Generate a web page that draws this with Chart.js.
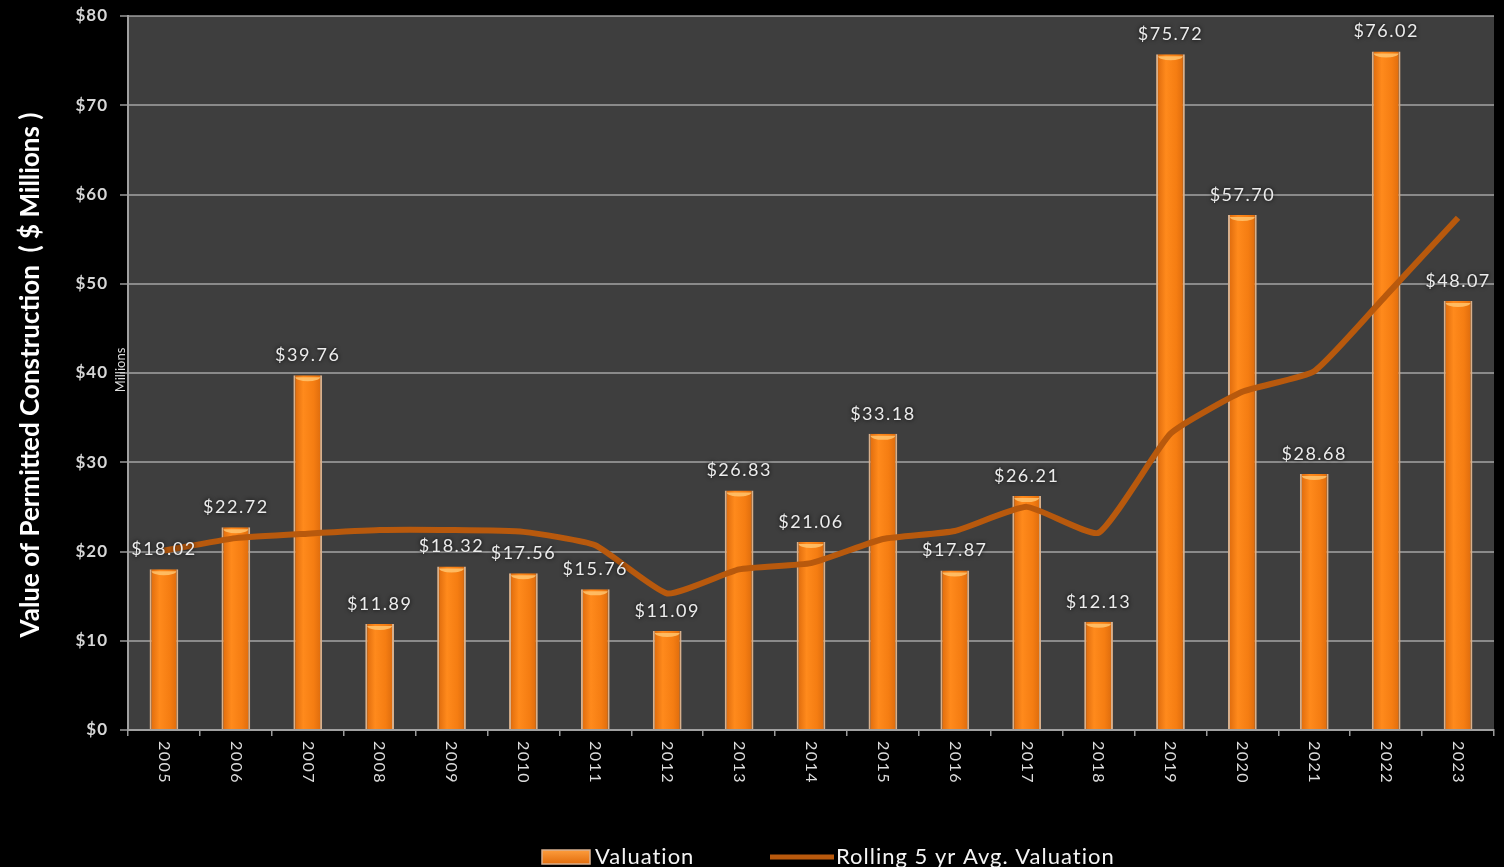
<!DOCTYPE html>
<html>
<head>
<style>
  html, body { margin: 0; padding: 0; background: #000; }
  #wrap { width: 1504px; height: 867px; }
</style>
</head>
<body>
<div id="wrap"><canvas id="myChart" width="1504" height="867"></canvas></div>

<script src="https://cdn.jsdelivr.net/npm/chart.js"></script>
<script>
// data
const years = ['2005', '2006', '2007', '2008', '2009', '2010', '2011', '2012', '2013', '2014',
               '2015', '2016', '2017', '2018', '2019', '2020', '2021', '2022', '2023'];
const valuation = [18.02, 22.72, 39.76, 11.89, 18.32, 17.56, 15.76, 11.09, 26.83, 21.06,
                   33.18, 17.87, 26.21, 12.13, 75.72, 57.70, 28.68, 76.02, 48.07];
const rolling5yr = [20.1, 21.5, 22.0, 22.4, 22.4, 22.2, 20.7, 15.3, 18.0, 18.7,
                    21.4, 22.3, 25.0, 22.1, 33.2, 37.9, 40.2, 48.7, 57.4];
const yMin = 0, yMax = 80, yStep = 10;
const yTitle = 'Value of Permitted Construction  ( $ Millions )';
const unitLabel = 'Millions';

const FONT = 'Lato, "Open Sans", sans-serif';
const LINE_COLOR = '#b8590d';

function barGradient(c) {
  let chart = c.chart;
  let xs = chart.scales.x;
  if (!xs || c.dataIndex === undefined) return '#f07810';
  let cx = xs.getPixelForValue(c.dataIndex);
  if (!isFinite(cx)) return '#f07810';
  let half = 15;
  let g = chart.ctx.createLinearGradient(cx - half, 0, cx + half, 0);
  g.addColorStop(0, '#d8650a');
  g.addColorStop(0.35, '#ff8a1c');
  g.addColorStop(0.7, '#f57d12');
  g.addColorStop(1, '#d8680c');
  return g;
}

const decor = {
  id: 'decor',
  beforeDraw(chart) {
    let ctx = chart.ctx, a = chart.chartArea;
    ctx.save();
    ctx.fillStyle = '#000';
    ctx.fillRect(0, 0, chart.width, chart.height);
    ctx.fillStyle = '#3e3e3e';
    ctx.fillRect(a.left, a.top, a.right - a.left, a.bottom - a.top);
    ctx.restore();
    // slightly spaced text, like the original
    ctx.letterSpacing = '1px';
  },
  afterDatasetDraw(chart, args) {
    if (args.index !== 0) return;
    // lighter cap at the top of every bar
    let ctx = chart.ctx;
    ctx.save();
    chart.getDatasetMeta(0).data.forEach((bar) => {
      let w = bar.width / 2 - 2;
      ctx.fillStyle = 'rgba(255,196,110,0.85)';
      ctx.beginPath();
      ctx.ellipse(bar.x, bar.y + 2, w, 4, 0, 0, Math.PI);
      ctx.fill();
    });
    ctx.restore();
  },
  afterDatasetsDraw(chart) {
    // value labels above the bars
    let ctx = chart.ctx;
    ctx.save();
    ctx.font = '18px ' + FONT;
    ctx.letterSpacing = '1.5px';
    ctx.textAlign = 'center';
    ctx.textBaseline = 'middle';
    ctx.shadowColor = 'rgba(0,0,0,0.9)';
    ctx.shadowBlur = 4;
    ctx.fillStyle = '#ececec';
    chart.getDatasetMeta(0).data.forEach((bar, i) => {
      ctx.fillText('$' + valuation[i].toFixed(2), bar.x, bar.y - 20);
    });
    ctx.restore();
  },
  afterDraw(chart) {
    let ctx = chart.ctx, a = chart.chartArea;
    let xs = chart.scales.x;
    ctx.save();
    // x labels, rotated to read top to bottom
    ctx.font = '16px ' + FONT;
    ctx.letterSpacing = '1.5px';
    ctx.fillStyle = '#dcdcdc';
    ctx.textAlign = 'left';
    ctx.textBaseline = 'middle';
    years.forEach((y, i) => {
      ctx.save();
      ctx.translate(xs.getPixelForTick(i), a.bottom + 11);
      ctx.rotate(Math.PI / 2);
      ctx.fillText(y, 0, 0);
      ctx.restore();
    });

    // axis title
    ctx.save();
    ctx.translate(31, (a.top + a.bottom) / 2 + 2);
    ctx.rotate(-Math.PI / 2);
    ctx.font = 'bold 26px ' + FONT;
    ctx.letterSpacing = '0px';
    ctx.fillStyle = '#ffffff';
    ctx.textAlign = 'center';
    ctx.fillText(yTitle, 0, 0);
    ctx.restore();

    // display unit label
    ctx.save();
    ctx.translate(121, 370);
    ctx.rotate(-Math.PI / 2);
    ctx.font = '13px ' + FONT;
    ctx.letterSpacing = '0px';
    ctx.fillStyle = '#dddddd';
    ctx.textAlign = 'center';
    ctx.fillText(unitLabel, 0, 0);
    ctx.restore();

    // legend
    let ly = 857;
    ctx.font = '22px ' + FONT;
    ctx.letterSpacing = '1px';
    ctx.textBaseline = 'middle';
    ctx.textAlign = 'left';
    let g = ctx.createLinearGradient(0, ly - 8, 0, ly + 8);
    g.addColorStop(0, '#ffa040');
    g.addColorStop(1, '#e06a0a');
    ctx.fillStyle = g;
    ctx.fillRect(542, ly - 7, 48, 14);
    ctx.strokeStyle = '#d8b090';
    ctx.lineWidth = 1.5;
    ctx.strokeRect(542, ly - 7, 48, 14);
    ctx.fillStyle = '#f4f4f4';
    ctx.fillText(chart.data.datasets[0].label, 595, ly);

    ctx.strokeStyle = LINE_COLOR;
    ctx.lineWidth = 5;
    ctx.beginPath();
    ctx.moveTo(770, ly);
    ctx.lineTo(834, ly);
    ctx.stroke();
    ctx.fillText(chart.data.datasets[1].label, 836, ly);
    ctx.restore();
  }
};

let ctx = document.getElementById('myChart').getContext('2d');
let chart = new Chart(ctx, {
  type: 'bar',
  data: {
    labels: years,
    datasets: [{
      type: 'bar',
      label: 'Valuation',
      data: valuation,
      backgroundColor: barGradient,
      borderColor: '#d8b08c',
      borderWidth: { left: 2, right: 2, top: 0, bottom: 0 },
      barPercentage: 0.4,
      categoryPercentage: 1,
      order: 2
    }, {
      type: 'line',
      label: 'Rolling 5 yr Avg. Valuation',
      data: rolling5yr,
      borderColor: LINE_COLOR,
      borderWidth: 6,
      pointRadius: 0,
      tension: 0.15,
      order: 1
    }]
  },
  options: {
    responsive: false,
    animation: false,
    layout: { padding: { top: 16, right: 10, left: 0, bottom: 0 } },
    plugins: {
      legend: { display: false },
      tooltip: { enabled: false }
    },
    scales: {
      x: {
        offset: true,
        grid: { display: true, drawOnChartArea: false, offset: true, color: '#9a9a9a', tickLength: 6, lineWidth: 1.5 },
        border: { display: true, color: '#a0a0a0', width: 2 },
        ticks: { display: false },
        afterFit: (s) => { s.height = 867 - 730; }
      },
      y: {
        min: yMin,
        max: yMax,
        ticks: {
          stepSize: yStep,
          color: '#d6d6d6',
          font: { family: FONT, size: 17, weight: 'bold' },
          padding: 12,
          callback: (v) => '$' + v
        },
        grid: { color: 'rgba(190,190,190,0.6)', lineWidth: 2, tickLength: 8 },
        border: { display: true, color: '#a0a0a0', width: 2 },
        afterFit: (s) => { s.width = 128; s.paddingTop = 0; s.paddingBottom = 0; }
      }
    }
  },
  plugins: [decor]
});
</script>
</body>
</html>
